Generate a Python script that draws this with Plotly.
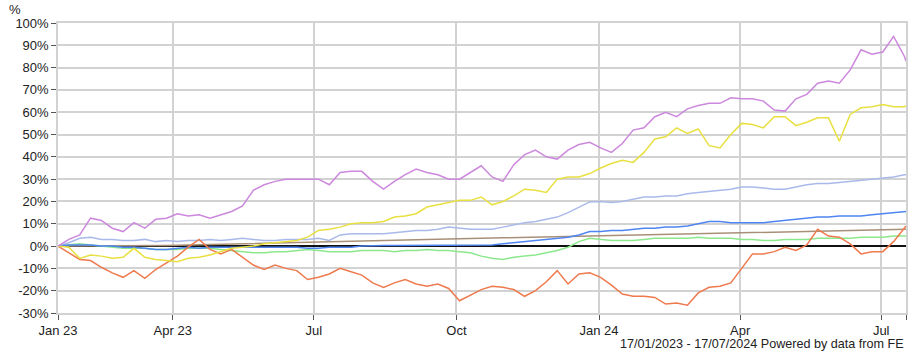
import pandas as pd
import plotly.graph_objects as go

# weekly observation dates (17/01/2023 .. 16/07/2024) plus the final day
dates = list(pd.date_range("2023-01-17", periods=79, freq="7D").strftime("%Y-%m-%d")) + ["2024-07-17"]

purple = [0, 3, 5, 12.5, 11.5, 8, 6.5, 10.5, 8, 12,
          12.5, 14.5, 13.5, 14, 12.5, 14, 15.5, 18, 25, 27.5,
          29, 30, 30, 30, 30, 27.5, 33, 33.5, 33.5, 29,
          25.5, 29, 32, 34.5, 33, 32, 30, 30, 33, 36,
          31, 29, 36.5, 41, 43, 40, 39, 43, 45.5, 46.5,
          44, 42, 46, 52, 53, 58, 60, 58, 61.5, 63,
          64, 64, 66.5, 66, 66, 65, 61, 60.5, 66, 68,
          73, 74, 73, 79, 88, 86, 87, 94, 85, 83]

yellow = [0, -0.5, -5.5, -4, -4.5, -5.5, -5, -1, -5, -6,
          -6.5, -7, -5.5, -5, -4, -2.5, -1, -0.5, 0, 1,
          1.5, 2, 2.5, 4, 7, 7.5, 8.5, 10, 10.5, 10.5,
          11, 13, 13.5, 14.5, 17.5, 18.5, 19.5, 20.5, 20.5, 22,
          18.5, 20, 22.5, 25.5, 25, 24, 30, 31, 31, 32.5,
          35, 37, 38.5, 37.5, 42, 48, 49, 53, 50.5, 52.5,
          45, 44, 50, 55, 54.5, 53, 58, 58, 54, 55.5,
          57.5, 57.5, 47, 59, 62, 62.5, 63.5, 62.5, 62.5, 63]

lavender = [0, 1.5, 3.5, 4, 3, 3, 2.5, 2.5, 3, 2,
            2.5, 2, 2.5, 2.5, 3, 2.5, 3, 3.5, 3, 2.5,
            2.5, 3, 3, 3, 3.5, 2.5, 5, 5.5, 5.5, 5.5,
            5.5, 6, 6.5, 7, 7, 7.5, 8.5, 8, 7.5, 7.5,
            7.5, 8.5, 9.5, 10.5, 11, 12, 13, 15, 17.5, 19.8,
            20, 19.5, 20, 21, 22, 22, 22.5, 22.5, 23.5, 24,
            24.5, 25, 25.5, 26.5, 26.5, 26, 25.5, 25.5, 26.5, 27.5,
            28, 28, 28.5, 29, 29.5, 30, 30.5, 31, 32, 32]

blue = [0, 0.5, 0.5, 0.5, 0, 0, -0.5, -0.5, -1, -1.5,
        -1.5, -1, -0.5, -1, -0.5, -0.5, -0.5, -0.5, -0.5, -0.5,
        -0.5, -0.5, -0.5, -1, -1, -0.5, -0.5, -0.5, 0, 0.3,
        0.3, 0.3, 0.3, 0.3, 0.3, 0.3, 0.3, 0.3, 0.3, 0.3,
        0.5, 1, 1.5, 2, 2.5, 3, 3.5, 4, 5, 6.5,
        6.5, 7, 7, 7.5, 8, 8, 8.5, 8.5, 9, 10,
        11, 11, 10.5, 10.5, 10.5, 10.5, 11, 11.5, 12, 12.5,
        13, 13, 13.5, 13.5, 13.5, 14, 14.5, 15, 15.5, 15.5]

green = [0, 0.5, 1, 0.5, 0, -0.5, -1, -1, -1, -1.5,
         -1.5, -1.5, -1, -1, -1, -1.5, -2, -2.5, -3, -3,
         -2.5, -2.5, -2, -1.5, -2, -2.5, -2.5, -2.5, -2, -2,
         -2, -2.5, -2, -2, -1.5, -2, -2, -2.5, -3, -4.5,
         -5.5, -6, -5, -4.5, -4, -3, -2, -0.5, 2, 3.5,
         3, 2.5, 2.5, 2.5, 3, 3.5, 3.5, 3.5, 3.5, 4,
         3.5, 3.5, 3.5, 3, 3, 2.5, 2.5, 3, 3, 3,
         3.5, 3.5, 3.5, 3.5, 4, 4, 4, 4.5, 4.5, 4.5]

brown = [0, 0, 0, 0, 0, 0.1, 0.1, 0.2, 0.2, 0.3,
         0.3, 0.4, 0.5, 0.6, 0.7, 0.8, 0.9, 1.0, 1.2, 1.4,
         1.6, 1.7, 1.8, 1.9, 2.0, 2.1, 2.2, 2.3, 2.4, 2.5,
         2.6, 2.7, 2.8, 2.9, 3.0, 3.1, 3.2, 3.3, 3.4, 3.5,
         3.6, 3.7, 3.8, 3.9, 4.0, 4.1, 4.2, 4.3, 4.4, 4.5,
         4.6, 4.7, 4.8, 4.9, 5.0, 5.1, 5.2, 5.3, 5.4, 5.5,
         5.6, 5.7, 5.8, 5.9, 6.0, 6.1, 6.2, 6.3, 6.4, 6.5,
         6.6, 6.7, 6.8, 6.9, 7.0, 7.1, 7.2, 7.3, 7.4, 7.5]

orange = [0, -3, -6, -6.5, -9.5, -12, -14, -11, -14.5, -10.5,
          -7.5, -4.5, -0.5, 3, -1.5, -3.5, -1.5, -5, -8.5, -10.5,
          -8.5, -10, -11, -15, -14, -12.5, -10, -11.5, -13, -16.5,
          -18.5, -16.5, -15, -17, -18, -17, -19, -24.5, -22, -19.5,
          -18, -18.5, -19.5, -22.5, -20, -16, -11, -17, -12.5, -12,
          -14, -17.5, -21.5, -22.5, -22.5, -23, -26, -25.5, -26.5, -21,
          -18.5, -18, -16.5, -10, -3.5, -3.5, -2.5, -0.5, -2, 0.5,
          7.5, 4.5, 4, 1, -3.5, -2.5, -2.5, 2, 8.5, 9]

tick_dates = ["2023-01-17", "2023-04-01", "2023-07-01", "2023-10-01",
              "2024-01-01", "2024-04-01", "2024-07-01", "2024-07-17"]
tick_text = ["Jan 23", "Apr 23", "Jul", "Oct", "Jan 24", "Apr", "Jul", ""]
y_ticks = [-30, -20, -10, 0, 10, 20, 30, 40, 50, 60, 70, 80, 90, 100]
y_text = [f"{v}%" for v in y_ticks]

series = [
    (brown, "#a89078"),
    (green, "#8ce88c"),
    (lavender, "#a9b9ea"),
    (blue, "#4f85f0"),
    (orange, "#ee7a4e"),
    (yellow, "#e8e040"),
    (purple, "#cc88dd"),
]

FONT = "Liberation Sans, Arial, sans-serif"
GRID = "#d2d2d2"

fig = go.Figure()
for vals, col in series:
    fig.add_trace(go.Scatter(x=dates, y=vals, mode="lines",
                             line=dict(color=col, width=1.5),
                             hoverinfo="skip", showlegend=False))

fig.update_layout(
    width=917, height=357,
    margin=dict(l=58, r=9, t=23, b=44),
    paper_bgcolor="white", plot_bgcolor="white",
    font=dict(family=FONT, size=13, color="#222222"),
    showlegend=False,
    xaxis=dict(type="date", range=["2023-01-17", "2024-07-17"],
               tickvals=tick_dates, ticktext=tick_text,
               ticks="outside", ticklen=5, tickcolor="#555555",
               showgrid=True, gridcolor=GRID, gridwidth=1.5,
               showline=True, linecolor=GRID, linewidth=1.5, mirror=True,
               zeroline=False),
    yaxis=dict(range=[-30, 100], tickvals=y_ticks, ticktext=y_text,
               ticks="outside", ticklen=5, tickcolor="#555555",
               showgrid=True, gridcolor=GRID, gridwidth=1.5,
               showline=True, linecolor=GRID, linewidth=1.5, mirror=True,
               zeroline=True, zerolinecolor="#111111", zerolinewidth=1.5),
    annotations=[
        dict(text="%", xref="paper", yref="paper", x=-0.051, y=1.0,
             xanchor="center", yanchor="bottom", yshift=4, showarrow=False,
             font=dict(family=FONT, size=13, color="#222222")),
        dict(text="17/01/2023 - 17/07/2024 Powered by data from FE",
             xref="paper", yref="paper", x=1.0, y=0, xanchor="right",
             yanchor="top", yshift=-22, showarrow=False,
             font=dict(family=FONT, size=12.6, color="#222222")),
    ],
)

fig.write_html("out.html",
               config={"displayModeBar": False},
               post_script="document.body.style.margin='0';document.body.style.overflow='hidden';")
